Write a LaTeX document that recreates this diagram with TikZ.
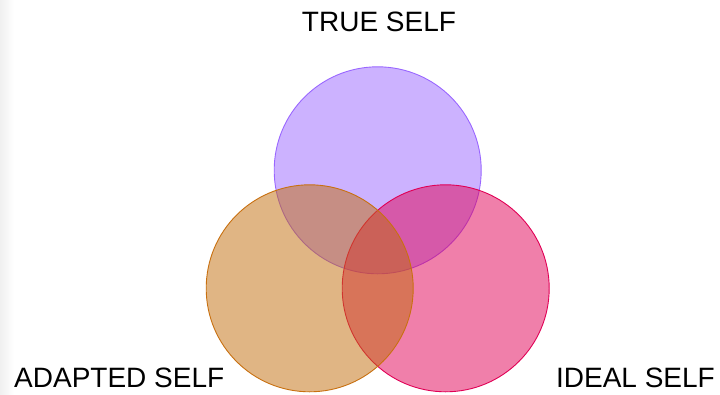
\documentclass[tikz,border=0pt]{standalone}
\usepackage{fontspec}
\setmainfont{Liberation Sans}
\definecolor{topc}{HTML}{9966FF}
\definecolor{leftc}{HTML}{C16B09}
\definecolor{leftd}{HTML}{C87010}
\definecolor{rightc}{HTML}{E10055}
\definecolor{rightd}{HTML}{E00055}
\tikzset{
  setcircle/.style={circle, minimum size=207pt, inner sep=0pt, fill opacity=0.5, line width=0.9pt},
  setlabel/.style={inner sep=0pt, font=\fontsize{28pt}{32pt}\selectfont, text=black}
}
\begin{document}
\begin{tikzpicture}[x=1pt,y=-1pt]
\useasboundingbox (0,0) rectangle (720,394);
\shade[left color=black!6, right color=white] (0,0) rectangle (14,394);
\node[setcircle, draw=topc, fill=topc] (true) at (377.7,170.3) {};
\node[setcircle, draw=rightd, fill=rightc] (ideal) at (445.7,288.3) {};
\node[setcircle, draw=leftd, fill=leftc] (adapted) at (309.7,288.3) {};
\node[setlabel, anchor=base] (tl) at (379,31) {TRUE SELF};
\node[setlabel, anchor=base west] (al) at (14,387) {ADAPTED SELF};
\node[setlabel, anchor=base east] (il) at (715,387) {IDEAL SELF};
\end{tikzpicture}
\end{document}
